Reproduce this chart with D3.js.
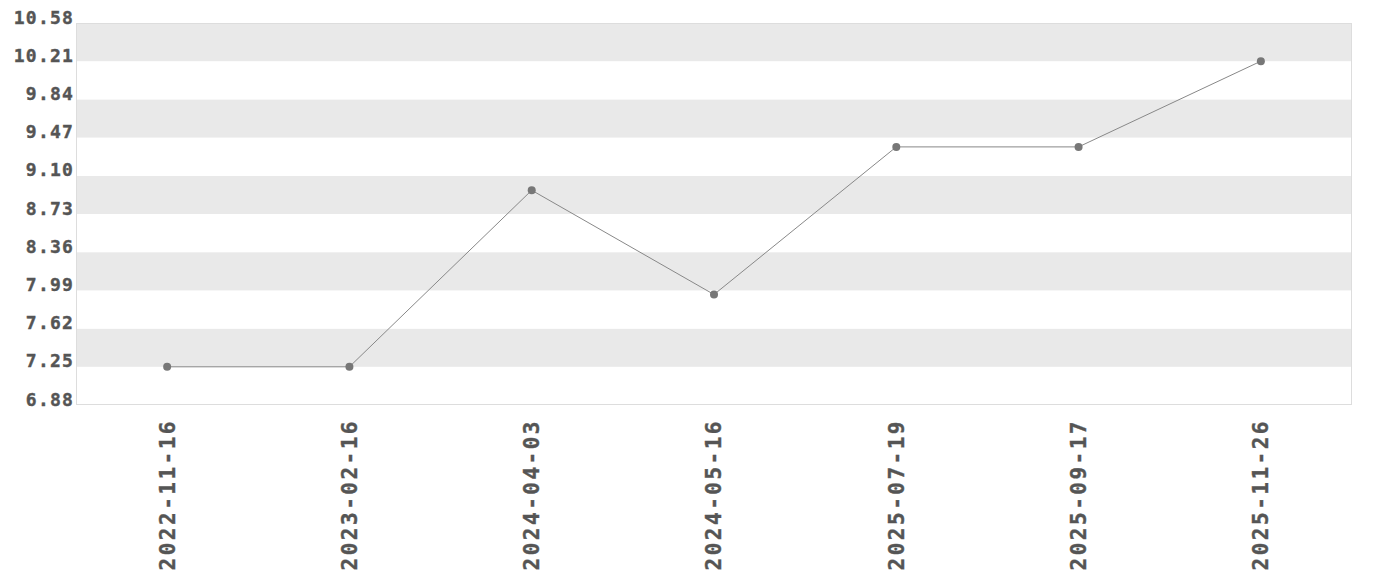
<!DOCTYPE html>
<html><head><meta charset="utf-8">
<script src="https://cdn.jsdelivr.net/npm/d3@7"></script>
<style>body{margin:0;background:#fff}svg{display:block}</style>
</head><body><svg id="c" width="1380" height="580"></svg>
<script>
const dates = ["2022-11-16","2023-02-16","2024-04-03","2024-05-16","2025-07-19","2025-09-17","2025-11-26"];
const values = [7.25, 7.25, 8.96, 7.95, 9.38, 9.38, 10.21];
const yTicks = [6.88, 7.25, 7.62, 7.99, 8.36, 8.73, 9.10, 9.47, 9.84, 10.21, 10.58];

const svg = d3.select("#c");
const m = {l:76, r:28, t:23, b:175};
const W = 1380, H = 580;
const x = d3.scaleBand().domain(dates).range([m.l, W - m.r]);
const y = d3.scaleLinear().domain([6.88, 10.58]).range([H - m.b, m.t]);

// bands
for (let i = 0; i < yTicks.length - 1; i++) {
  svg.append("rect")
    .attr("x", m.l).attr("width", W - m.r - m.l)
    .attr("y", y(yTicks[i+1])).attr("height", y(yTicks[i]) - y(yTicks[i+1]))
    .attr("fill", (i % 2 === 1) ? "#e9e9e9" : "#ffffff");
}
svg.append("rect").attr("x", m.l + 0.5).attr("y", m.t + 0.5)
  .attr("width", W - m.r - m.l - 1).attr("height", H - m.b - m.t - 1)
  .attr("fill", "none").attr("stroke", "#dddddd");

const font = "'DejaVu Sans Mono', monospace";
const yAxis = svg.append("g").attr("transform", `translate(${m.l},0)`)
  .call(d3.axisLeft(y).tickValues(yTicks).tickFormat(d3.format(".2f")).tickSize(0).tickPadding(2));
yAxis.select(".domain").remove();
yAxis.selectAll("text").attr("font-family", font).attr("font-weight", "bold")
  .attr("font-size", 18).attr("fill", "#555").attr("letter-spacing", 1.2)
  .attr("stroke", "#555").attr("stroke-width", 0.4)
  .attr("dy", "0");

const xAxis = svg.append("g").attr("transform", `translate(0,${H - m.b})`)
  .call(d3.axisBottom(x).tickSize(0).tickPadding(14));
xAxis.select(".domain").remove();
xAxis.selectAll("text").attr("font-family", font).attr("font-weight", "bold")
  .attr("font-size", 21).attr("fill", "#555").attr("letter-spacing", 2.5)
  .attr("stroke", "#555").attr("stroke-width", 0.4)
  .attr("text-anchor", "end").attr("dy", "0.35em")
  .attr("transform", "rotate(-90)").attr("x", -14).attr("y", 0);

const cx = d => x(d) + x.bandwidth() / 2;
svg.append("path").datum(dates)
  .attr("d", d3.line().x(d => cx(d)).y((d, i) => y(values[i])))
  .attr("fill", "none").attr("stroke", "#888").attr("stroke-width", 1);
svg.selectAll("circle.pt").data(dates).enter().append("circle")
  .attr("class", "pt").attr("cx", d => cx(d)).attr("cy", (d, i) => y(values[i]))
  .attr("r", 4).attr("fill", "#777");
</script></body></html>
